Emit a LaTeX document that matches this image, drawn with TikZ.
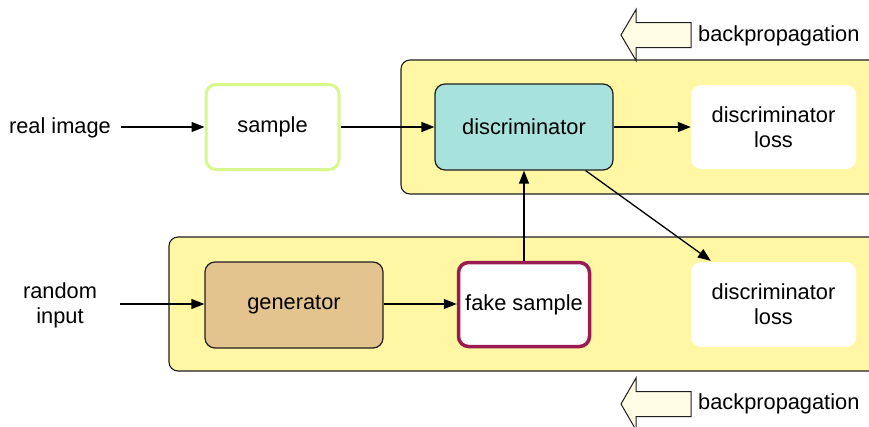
\documentclass[tikz,border=0pt]{standalone}
\usepackage{fontspec}
\setmainfont{Liberation Sans}
\usetikzlibrary{arrows.meta,calc}
\definecolor{panelyellow}{RGB}{255,247,163}
\definecolor{discteal}{RGB}{168,226,220}
\definecolor{gentan}{RGB}{228,196,142}
\definecolor{samplegreen}{RGB}{216,247,140}
\definecolor{fakemaroon}{RGB}{153,27,82}
\definecolor{bpfill}{RGB}{255,253,228}
\definecolor{edge}{RGB}{30,30,30}
\tikzset{
  lbl/.style={font=\fontsize{21.8}{25}\selectfont, text=black, align=center},
  box/.style={lbl, rounded corners=10pt, inner sep=0pt},
  panel/.style={fill=panelyellow, draw=edge, line width=1.1pt, rounded corners=9pt},
  flow/.style={-{Triangle[length=13pt,width=10pt]}, line width=1.3pt, black},
  bparrow/.style={fill=bpfill, draw=edge, line width=1pt, line join=miter},
}
\begin{document}
\begin{tikzpicture}[x=1pt,y=-1pt]
\useasboundingbox (0,0) rectangle (869,426);
\clip (0,0) rectangle (869,426);

% yellow panels (they run on past the right edge)
\path[panel] (401,60) rectangle (900,194);
\path[panel] (169,237) rectangle (900,371);

% backpropagation arrows
\path[bparrow] (621,35) -- (636,9.5) -- (636,22.5) -- (691,22.5) -- (691,47.5)
  -- (636,47.5) -- (636,60.5) -- cycle;
\node[lbl, anchor=west, inner sep=0pt] (bptop) at (698,36) {backpropagation};
\path[bparrow] (621,404) -- (636,378) -- (636,391.5) -- (691,391.5) -- (691,416.5)
  -- (636,416.5) -- (636,430) -- cycle;
\node[lbl, anchor=west, inner sep=0pt] (bpbot) at (698,404) {backpropagation};

% top row
\node[lbl, inner sep=0pt] (real) at (60,128) {real image};
\node[box, draw=samplegreen, line width=3pt, fill=white,
  minimum width=133pt, minimum height=85pt] (sample) at (272.5,127) {sample};
\node[box, draw=edge, line width=1.2pt, fill=discteal,
  minimum width=178pt, minimum height=86pt] (disc) at (524,127) {discriminator};
\node[box, fill=white, minimum width=165pt, minimum height=84pt] (lossA)
  at (773.5,127) {discriminator\\loss};

% bottom row
\node[lbl, inner sep=0pt] (rand) at (60,305) {random\\input};
\node[box, draw=edge, line width=1.2pt, fill=gentan,
  minimum width=178pt, minimum height=86pt] (gen) at (294,305) {\raisebox{-2pt}{generator}};
\node[box, draw=fakemaroon, line width=3.5pt, fill=white,
  minimum width=131pt, minimum height=84pt] (fake) at (524,304.5) {fake sample};
\node[box, fill=white, minimum width=165pt, minimum height=85pt] (lossB)
  at (773.5,304.5) {discriminator\\loss};

% connectors
\coordinate (realout) at ($(real.east)+(10,-1)$);
\draw[flow] (realout) -- (sample.west |- realout);
\draw[flow] (sample.east) -- (disc.west);
\draw[flow] (disc.east) -- (lossA.west);
\coordinate (randout) at (120,304);
\draw[flow] (randout) -- (gen.west |- randout);
\draw[flow] (gen.east |- randout) -- (fake.west |- randout);
\draw[flow] (fake.north) -- (disc.south);
\draw[flow] ($(disc.south east)+(-28,0)$) -- ($(lossB.north west)+(20,-1)$);
\end{tikzpicture}
\end{document}
